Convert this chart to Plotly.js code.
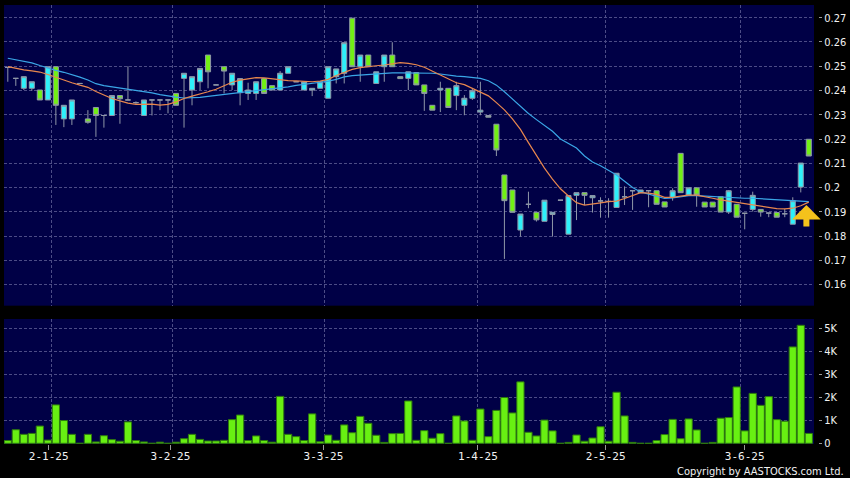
<!DOCTYPE html>
<html>
<head>
<meta charset="utf-8">
<script src="https://cdn.plot.ly/plotly-3.0.1.min.js"></script>
<style>
  html, body { margin: 0; padding: 0; background: #000; }
  #chart { width: 850px; height: 478px; }
</style>
</head>
<body>
<div id="chart"></div>
<script>
// ---- Data ----
const tickLabels = ['2-1-25', '3-2-25', '3-3-25', '1-4-25', '2-5-25', '3-6-25'];
const tickIndex  = [5.1, 20.3, 39.4, 58.7, 74.65, 92.0];   // label positions (bar index)
const gridIndex  = [5.5, 20.5, 39.5, 58.7, 74.65, 91.5];   // vertical grid positions (bar index)

const priceTicks    = [0.16, 0.17, 0.18, 0.19, 0.20, 0.21, 0.22, 0.23, 0.24, 0.25, 0.26, 0.27];
const priceTickText = ['0.16', '0.17', '0.18', '0.19', '0.2', '0.21', '0.22', '0.23', '0.24', '0.25', '0.26', '0.27'];
const volTicks    = [0, 1000, 2000, 3000, 4000, 5000];
const volTickText = ['0', '1K', '2K', '3K', '4K', '5K'];

const open = [
  0.2495, 0.2450, 0.2409, 0.2409, 0.2402, 0.2361, 0.2498, 0.2283, 0.2283, 0.2429,
  0.2283, 0.2330, 0.2297, 0.2297, 0.2379, 0.2361, 0.2350, 0.2297, 0.2361, 0.2361,
  0.2361, 0.2388, 0.2450, 0.2402, 0.2436, 0.2546, 0.2423, 0.2498, 0.2423, 0.2391,
  0.2388, 0.2388, 0.2449, 0.2420, 0.2402, 0.2471, 0.2436, 0.2402, 0.2402, 0.2409,
  0.2368, 0.2457, 0.2471, 0.2698, 0.2498, 0.2546, 0.2429, 0.2498, 0.2546, 0.2457,
  0.2450, 0.2474, 0.2423, 0.2339, 0.2402, 0.2409, 0.2379, 0.2339, 0.2368, 0.2311,
  0.2297, 0.2261, 0.2052, 0.1990, 0.1825, 0.1931, 0.1898, 0.1861, 0.1889, 0.1948,
  0.1808, 0.1968, 0.1979, 0.1958, 0.1945, 0.1943, 0.1918, 0.1962, 0.1987, 0.1979,
  0.1987, 0.1987, 0.1941, 0.1959, 0.2141, 0.1969, 0.1999, 0.1940, 0.1940, 0.1962,
  0.1899, 0.1931, 0.1894, 0.1910, 0.1910, 0.1895, 0.1897, 0.1892, 0.1849, 0.2002,
  0.2199
];
const high = [
  0.2495, 0.2450, 0.2457, 0.2436, 0.2402, 0.2498, 0.2498, 0.2339, 0.2361, 0.2429,
  0.2319, 0.2330, 0.2297, 0.2379, 0.2379, 0.2500, 0.2355, 0.2361, 0.2361, 0.2361,
  0.2361, 0.2388, 0.2471, 0.2457, 0.2491, 0.2546, 0.2423, 0.2498, 0.2471, 0.2449,
  0.2432, 0.2436, 0.2449, 0.2420, 0.2480, 0.2498, 0.2436, 0.2436, 0.2409, 0.2436,
  0.2498, 0.2489, 0.2597, 0.2698, 0.2546, 0.2546, 0.2477, 0.2546, 0.2599, 0.2457,
  0.2477, 0.2474, 0.2423, 0.2339, 0.2436, 0.2409, 0.2436, 0.2381, 0.2409, 0.2436,
  0.2297, 0.2261, 0.2052, 0.1990, 0.1891, 0.1983, 0.1898, 0.1948, 0.1898, 0.1948,
  0.1967, 0.1979, 0.1979, 0.1967, 0.1960, 0.1956, 0.2059, 0.2005, 0.1987, 0.1990,
  0.1987, 0.1987, 0.1941, 0.1997, 0.2141, 0.1999, 0.1999, 0.1940, 0.1940, 0.1962,
  0.1990, 0.1931, 0.1894, 0.1983, 0.1910, 0.1895, 0.1897, 0.1912, 0.1960, 0.2101,
  0.2199
];
const low = [
  0.2436, 0.2419, 0.2402, 0.2399, 0.2361, 0.2361, 0.2258, 0.2249, 0.2258, 0.2429,
  0.2263, 0.2209, 0.2247, 0.2297, 0.2263, 0.2361, 0.2345, 0.2297, 0.2297, 0.2319,
  0.2306, 0.2339, 0.2247, 0.2339, 0.2402, 0.2409, 0.2423, 0.2388, 0.2402, 0.2339,
  0.2361, 0.2361, 0.2388, 0.2402, 0.2402, 0.2471, 0.2436, 0.2402, 0.2377, 0.2409,
  0.2368, 0.2429, 0.2429, 0.2498, 0.2436, 0.2498, 0.2429, 0.2436, 0.2498, 0.2449,
  0.2402, 0.2423, 0.2316, 0.2319, 0.2311, 0.2330, 0.2319, 0.2298, 0.2361, 0.2298,
  0.2290, 0.2130, 0.1706, 0.1898, 0.1798, 0.1915, 0.1860, 0.1861, 0.1798, 0.1948,
  0.1808, 0.1866, 0.1928, 0.1897, 0.1876, 0.1876, 0.1918, 0.1928, 0.1908, 0.1979,
  0.1919, 0.1931, 0.1920, 0.1946, 0.1979, 0.1969, 0.1921, 0.1920, 0.1920, 0.1899,
  0.1891, 0.1878, 0.1828, 0.1901, 0.1880, 0.1878, 0.1878, 0.1878, 0.1849, 0.1980,
  0.2130
];
const close = [
  0.2495, 0.2450, 0.2457, 0.2436, 0.2361, 0.2498, 0.2339, 0.2339, 0.2361, 0.2429,
  0.2269, 0.2297, 0.2297, 0.2379, 0.2366, 0.2361, 0.2350, 0.2361, 0.2361, 0.2361,
  0.2361, 0.2339, 0.2471, 0.2457, 0.2491, 0.2477, 0.2423, 0.2480, 0.2471, 0.2449,
  0.2402, 0.2436, 0.2388, 0.2402, 0.2471, 0.2498, 0.2436, 0.2436, 0.2409, 0.2436,
  0.2498, 0.2489, 0.2597, 0.2498, 0.2546, 0.2498, 0.2477, 0.2546, 0.2498, 0.2449,
  0.2477, 0.2423, 0.2388, 0.2319, 0.2409, 0.2330, 0.2420, 0.2368, 0.2399, 0.2319,
  0.2290, 0.2155, 0.1946, 0.1898, 0.1891, 0.1931, 0.1867, 0.1948, 0.1898, 0.1948,
  0.1967, 0.1979, 0.1968, 0.1967, 0.1945, 0.1943, 0.2059, 0.1962, 0.1987, 0.1990,
  0.1987, 0.1931, 0.1920, 0.1987, 0.1979, 0.1999, 0.1969, 0.1920, 0.1920, 0.1899,
  0.1987, 0.1878, 0.1894, 0.1968, 0.1899, 0.1895, 0.1878, 0.1892, 0.1946, 0.2101,
  0.2130
];
const volume = [
  120, 590, 390, 430, 750, 140, 1670, 990, 390, 0,
  390, 60, 330, 160, 90, 930, 120, 60, 0, 50,
  0, 50, 200, 390, 170, 100, 100, 130, 1030, 1230,
  120, 320, 120, 50, 2040, 390, 290, 120, 1280, 70,
  360, 130, 800, 460, 1170, 870, 350, 40, 420, 430,
  1840, 130, 550, 220, 420, 0, 1190, 970, 130, 1490,
  290, 1430, 1990, 1320, 2670, 480, 320, 1010, 540, 0,
  40, 360, 90, 230, 720, 90, 2220, 1190, 40, 0,
  0, 120, 380, 1040, 200, 1060, 580, 0, 40, 1090,
  1120, 2450, 540, 2170, 1650, 2030, 1030, 960, 4190, 5130,
  430
];
const maShort = [
  0.2498, 0.2490, 0.2485, 0.2481, 0.2476, 0.2466, 0.2454, 0.2443, 0.2432, 0.2422,
  0.2413, 0.2396, 0.2382, 0.2367, 0.2357, 0.2348, 0.2343, 0.2345, 0.2344, 0.2340,
  0.2343, 0.2353, 0.2367, 0.2377, 0.2385, 0.2395, 0.2405, 0.2420, 0.2434, 0.2443,
  0.2449, 0.2453, 0.2452, 0.2448, 0.2444, 0.2441, 0.2440, 0.2438, 0.2436, 0.2439,
  0.2446, 0.2462, 0.2476, 0.2487, 0.2494, 0.2499, 0.2502, 0.2505, 0.2510, 0.2515,
  0.2512, 0.2506, 0.2496, 0.2480, 0.2463, 0.2447, 0.2432, 0.2424, 0.2408, 0.2394,
  0.2378, 0.2350, 0.2320, 0.2283, 0.2240, 0.2185, 0.2130, 0.2080, 0.2035, 0.1995,
  0.1965, 0.1938, 0.1928, 0.1931, 0.1937, 0.1942, 0.1944, 0.1955, 0.1968, 0.1979,
  0.1977, 0.1972, 0.1960, 0.1960, 0.1965, 0.1969, 0.1969, 0.1964, 0.1956, 0.1949,
  0.1944, 0.1937, 0.1932, 0.1926, 0.1921, 0.1917, 0.1913, 0.1912, 0.1915, 0.1925,
  0.1940
];
const maLong = [
  0.2533, 0.2526, 0.2520, 0.2514, 0.2503, 0.2492, 0.2483, 0.2475, 0.2466, 0.2455,
  0.2443, 0.2428, 0.2420, 0.2415, 0.2411, 0.2408, 0.2402, 0.2396, 0.2390, 0.2383,
  0.2377, 0.2373, 0.2369, 0.2369, 0.2372, 0.2376, 0.2380, 0.2384, 0.2388, 0.2391,
  0.2394, 0.2398, 0.2401, 0.2405, 0.2409, 0.2415, 0.2421, 0.2425, 0.2428, 0.2431,
  0.2438, 0.2446, 0.2456, 0.2461, 0.2464, 0.2467, 0.2470, 0.2472, 0.2473, 0.2473,
  0.2473, 0.2473, 0.2472, 0.2471, 0.2468, 0.2463, 0.2459, 0.2457, 0.2455, 0.2450,
  0.2440, 0.2422, 0.2395, 0.2364, 0.2335, 0.2305, 0.2280, 0.2255, 0.2232, 0.2200,
  0.2180, 0.2163, 0.2130, 0.2105, 0.2090, 0.2070, 0.2052, 0.2026, 0.2000, 0.1982,
  0.1973, 0.1965, 0.1955, 0.1957, 0.1962, 0.1967, 0.1967, 0.1965, 0.1962, 0.1960,
  0.1957, 0.1956, 0.1956, 0.1956, 0.1954, 0.1951, 0.1949, 0.1946, 0.1943, 0.1942,
  0.1942
];
const signalIndex = 99.7;
const signalPrice = 0.1928;

// ---- Chart ----
const idx = open.map((_, i) => i);
const xRange = [-0.474, 100.65];
const gridColor = '#4c4c86';
const axisFont = { family: 'DejaVu Sans Condensed, DejaVu Sans, sans-serif', size: 11, color: '#f2f2f2' };

const traces = [
  {
    type: 'candlestick', x: idx, open: open, high: high, low: low, close: close,
    xaxis: 'x2', yaxis: 'y2',
    increasing: { line: { color: '#8f97a8', width: 1 }, fillcolor: '#2ef0fa' },
    decreasing: { line: { color: '#8f97a8', width: 1 }, fillcolor: '#72f014' },
    whiskerwidth: 0, hoverinfo: 'skip'
  },
  {
    type: 'scatter', mode: 'lines', x: idx, y: maLong, xaxis: 'x2', yaxis: 'y2',
    line: { color: '#3aa6e6', width: 1.2 }, hoverinfo: 'skip'
  },
  {
    type: 'scatter', mode: 'lines', x: idx, y: maShort, xaxis: 'x2', yaxis: 'y2',
    line: { color: '#e8874e', width: 1.2 }, hoverinfo: 'skip'
  },
  {
    type: 'bar', x: idx, y: volume, xaxis: 'x', yaxis: 'y',
    marker: { color: '#68f012', line: { color: '#2e7a0e', width: 1 } },
    hoverinfo: 'skip'
  },
  {
    // invisible carrier so the date-label axis (x3) is drawn
    type: 'scatter', mode: 'markers', x: [tickIndex[0]], y: [0], xaxis: 'x3', yaxis: 'y',
    marker: { opacity: 0, size: 1 }, hoverinfo: 'skip'
  }
];

const gridAxis = {
  showgrid: true, gridcolor: gridColor, griddash: '3px,2px', gridwidth: 1,
  zeroline: false, showline: false, fixedrange: true
};

const layout = {
  width: 850, height: 478,
  margin: { l: 0, r: 0, t: 0, b: 0 },
  paper_bgcolor: '#000000',
  plot_bgcolor: '#000046',
  showlegend: false,
  hovermode: false,
  boxgap: 0.1,
  bargap: 0.1,
  xaxis: Object.assign({}, gridAxis, {
    domain: [0.004706, 0.957647], range: xRange, anchor: 'y',
    tickmode: 'array', tickvals: gridIndex, showticklabels: false, ticks: ''
  }),
  xaxis2: Object.assign({}, gridAxis, {
    domain: [0.004706, 0.957647], range: xRange, anchor: 'y2',
    tickmode: 'array', tickvals: gridIndex, showticklabels: false, ticks: '',
    rangeslider: { visible: false }
  }),
  xaxis3: {
    overlaying: 'x', anchor: 'y', side: 'bottom', range: xRange,
    tickmode: 'array', tickvals: tickIndex, ticktext: tickLabels,
    ticks: 'outside', ticklen: 5, tickcolor: '#9a9a9a', tickwidth: 1,
    ticklabelstandoff: -3,
    showgrid: false, zeroline: false, showline: false, fixedrange: true,
    tickfont: { family: 'DejaVu Sans Mono, monospace', size: 11, color: '#f2f2f2' }
  },
  yaxis: Object.assign({}, gridAxis, {
    domain: [0.07113, 0.33264], range: [-30, 5404],
    side: 'right', anchor: 'free', position: 0.9624,
    tickmode: 'array', tickvals: volTicks, ticktext: volTickText,
    ticks: 'outside', ticklen: 3, tickcolor: '#9a9a9a', tickfont: axisFont
  }),
  yaxis2: Object.assign({}, gridAxis, {
    domain: [0.3605, 0.98954], range: [0.15133, 0.27523],
    side: 'right', anchor: 'free', position: 0.9624,
    tickmode: 'array', tickvals: priceTicks, ticktext: priceTickText,
    ticks: 'outside', ticklen: 3, tickcolor: '#9a9a9a', tickfont: axisFont
  }),
  annotations: [
    {
      xref: 'x2', yref: 'y2', x: signalIndex, y: signalPrice,
      text: '', showarrow: true, arrowhead: 1, arrowsize: 0.8, arrowwidth: 6,
      arrowcolor: '#f4c21c', ax: 0, ay: 23, axref: 'pixel', ayref: 'pixel'
    },
    {
      xref: 'paper', yref: 'paper', x: 0.9953, y: 0.0146,
      xanchor: 'right', yanchor: 'middle', showarrow: false,
      text: 'Copyright by AASTOCKS.com Ltd.',
      font: { family: 'DejaVu Sans Condensed, DejaVu Sans, sans-serif', size: 11, color: '#f2f2f2' }
    }
  ]
};

Plotly.newPlot('chart', traces, layout, { staticPlot: true, displayModeBar: false });
</script>
</body>
</html>
